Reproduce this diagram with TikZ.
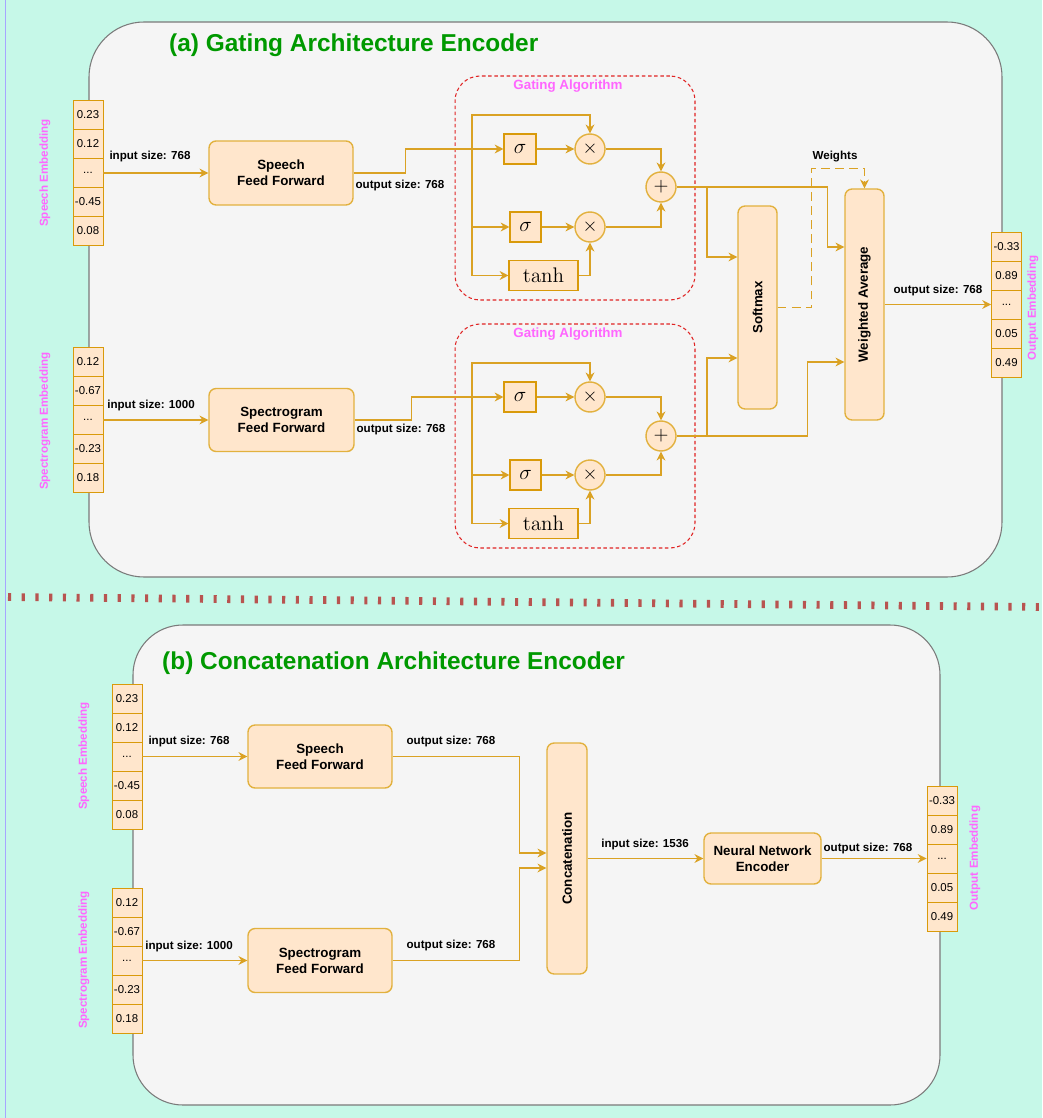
\documentclass[tikz,border=0pt]{standalone}
\usepackage[no-math]{fontspec}
\setmainfont{Liberation Sans}
\usetikzlibrary{arrows.meta,calc}
\definecolor{mint}{HTML}{C6F8E8}
\definecolor{panelf}{HTML}{F5F5F5}
\definecolor{paneld}{HTML}{7A7A7A}
\definecolor{orangef}{HTML}{FFE6CC}
\definecolor{cellc}{HTML}{D99A0A}
\definecolor{boxc}{HTML}{E2B13E}
\definecolor{linec}{HTML}{DAA224}
\definecolor{embc}{HTML}{FF66FF}
\definecolor{titlec}{HTML}{009900}
\definecolor{gatec}{HTML}{E02424}
\definecolor{sepc}{HTML}{B85450}
\begin{document}
\begin{tikzpicture}[x=0.02cm, y=-0.02cm,
    cell/.style={draw=cellc, fill=orangef, line width=0.55pt, minimum width=0.6cm, minimum height=0.58cm, inner sep=0pt, font=\fontsize{6.5}{7}\selectfont},
    blk/.style={draw=boxc, fill=orangef, line width=0.8pt, rounded corners=4pt, inner sep=0pt, align=center, font=\fontsize{7.6}{9}\selectfont\bfseries},
    vtext/.style={rotate=90, font=\fontsize{7.6}{9}\selectfont\bfseries},
    op/.style={circle, draw=boxc, fill=orangef, line width=0.8pt, minimum size=0.6cm, inner sep=0pt, font=\fontsize{11}{12}\selectfont},
    fn/.style={draw=cellc, fill=orangef, line width=0.6pt, minimum height=0.6cm, inner sep=0pt, font=\fontsize{11.5}{12}\selectfont},
    lbl/.style={font=\fontsize{6.6}{8}\selectfont\bfseries, inner sep=1pt},
    emb/.style={rotate=90, text=embc, font=\fontsize{6.6}{8}\selectfont\bfseries},
    gtitle/.style={text=embc, font=\fontsize{7.6}{9}\selectfont\bfseries},
    title/.style={anchor=west, text=titlec, font=\fontsize{13.9}{16}\selectfont\bfseries},
    gate/.style={draw=gatec, dash pattern=on 2pt off 1.5pt, line width=0.6pt, rounded corners=0.5cm, minimum width=4.8cm, minimum height=4.48cm},
    panel/.style={draw=paneld, fill=panelf, line width=0.6pt},
    arr/.style={draw=linec, line width=0.8pt, -{Stealth[length=5pt, width=5pt]}},
    ]
    % Background and the two panels
    \useasboundingbox (0,0) rectangle (1042,1118);
    \fill[mint] (0,0) rectangle (1042,1118);
    \draw[blue!35, line width=0.5pt] (5,0) -- (5,1118);
    \draw[panel, rounded corners=1.1cm] (89,22) rectangle (1002,577);
    \draw[panel, rounded corners=1cm] (133,625) rectangle (940,1105);
    \draw[sepc, line width=4.4pt, dash pattern=on 1.8pt off 6pt] (8,597) -- (1042,607);
    \node[title] (ta) at (163,45) {(a) Gating Architecture Encoder};
    \node[title] (tb) at (156,663) {(b) Concatenation Architecture Encoder};

    % (a) input vectors
    \node[cell] (se1) at (88,115) {0.23};
    \node[cell] (se2) at (88,144) {0.12};
    \node[cell] (se3) at (88,173) {...};
    \node[cell] (se4) at (88,202) {-0.45};
    \node[cell] (se5) at (88,231) {0.08};
    \node[emb] (sel) at (45,173) {Speech Embedding};
    \node[cell] (pe1) at (88,362) {0.12};
    \node[cell] (pe2) at (88,391) {-0.67};
    \node[cell] (pe3) at (88,420) {...};
    \node[cell] (pe4) at (88,449) {-0.23};
    \node[cell] (pe5) at (88,478) {0.18};
    \node[emb] (pel) at (45,421) {Spectrogram Embedding};

    % (a) feed forward blocks
    \node[blk, minimum width=2.88cm, minimum height=1.28cm] (sff) at (281,173) {Speech\\Feed Forward};
    \node[blk, minimum width=2.9cm, minimum height=1.26cm] (pff) at (281.5,420) {Spectrogram\\Feed Forward};
    \draw[arr] (se3.east) -- (sff.west);
    \draw[arr] (pe3.east) -- (pff.west);
    \node[lbl] (li1) at (150,157) {input size: 768};
    \node[lbl] (li2) at (151,406) {input size: 1000};
    \node[lbl] (lo1) at (400,186) {output size: 768};
    \node[lbl] (lo2) at (401,430) {output size: 768};

    % (a) upper gating algorithm
    \node[gate] (ga1) at (575,188) {};
    \node[gtitle] (gt1) at (568,86) {Gating Algorithm};
    \node[fn, minimum width=0.64cm] (sa1) at (520,149) {$\sigma$};
    \node[fn, minimum width=0.62cm] (sb1) at (525.5,227) {$\sigma$};
    \node[fn, minimum width=1.38cm] (th1) at (543.5,275.5) {$\tanh$};
    \node[op] (mx1) at (590,149) {$\times$};
    \node[op] (my1) at (590,227) {$\times$};
    \node[op] (ad1) at (661,187) {$+$};
    \coordinate (ja) at (472,149);
    \draw[arr] (sff.east) -- ++(52,0) |- (sa1.west);
    \draw[arr] (ja) -- ++(0,-34) -| (mx1.north);
    \draw[arr] (ja) |- (sb1.west);
    \draw[arr] (ja) |- (th1.west);
    \draw[arr] (sa1) -- (mx1);
    \draw[arr] (sb1) -- (my1);
    \draw[arr] (th1.east) -| (my1.south);
    \draw[arr] (mx1.east) -| (ad1.north);
    \draw[arr] (my1.east) -| (ad1.south);

    % (a) lower gating algorithm
    \node[gate] (ga2) at (575,436) {};
    \node[gtitle] (gt2) at (568,334) {Gating Algorithm};
    \node[fn, minimum width=0.64cm] (sa2) at (520,397) {$\sigma$};
    \node[fn, minimum width=0.62cm] (sb2) at (525.5,475) {$\sigma$};
    \node[fn, minimum width=1.38cm] (th2) at (543.5,523.5) {$\tanh$};
    \node[op] (mx2) at (590,397) {$\times$};
    \node[op] (my2) at (590,475) {$\times$};
    \node[op] (ad2) at (661,436) {$+$};
    \coordinate (jd) at (472,397);
    \draw[arr] (pff.east) -- ++(57,0) |- (sa2.west);
    \draw[arr] (jd) -- ++(0,-34) -| (mx2.north);
    \draw[arr] (jd) |- (sb2.west);
    \draw[arr] (jd) |- (th2.west);
    \draw[arr] (sa2) -- (mx2);
    \draw[arr] (sb2) -- (my2);
    \draw[arr] (th2.east) -| (my2.south);
    \draw[arr] (mx2.east) -| (ad2.north);
    \draw[arr] (my2.east) -| (ad2.south);

    % (a) softmax and weighted average
    \node[blk, minimum width=0.78cm, minimum height=4.06cm, label={[vtext]center:Softmax}] (sm) at (757.5,307.5) {};
    \node[blk, minimum width=0.78cm, minimum height=4.62cm, label={[vtext]center:Weighted Average}] (wa) at (864.5,304.5) {};
    \coordinate (sin1) at ($(sm.west)+(0,-50.5)$);
    \coordinate (sin2) at ($(sm.west)+(0,50.5)$);
    \coordinate (win1) at ($(wa.west)+(0,-57.5)$);
    \coordinate (win2) at ($(wa.west)+(0,57.5)$);
    \coordinate (wtop) at ($(wa.north)+(0,-20)$);
    \coordinate (jb) at (707,187);
    \coordinate (jc) at (707,436);
    \draw[arr] (ad1.east) -- ++(151,0) |- (win1);
    \draw[arr] (jb) |- (sin1);
    \draw[arr] (ad2.east) -- ++(131,0) |- (win2);
    \draw[arr] (jc) |- (sin2);
    \draw[arr, dash pattern=on 5pt off 3pt] (sm.east) -- ++(34,0) |- (wtop) -- (wa.north);
    \node[lbl] (wl) at (835,157) {Weights};

    % (a) output vector
    \node[cell] (oe1) at (1006.5,246.5) {-0.33};
    \node[cell] (oe2) at (1006.5,275.5) {0.89};
    \node[cell] (oe3) at (1006.5,304.5) {...};
    \node[cell] (oe4) at (1006.5,333.5) {0.05};
    \node[cell] (oe5) at (1006.5,362.5) {0.49};
    \node[emb] (oel) at (1033,308) {Output Embedding};
    \draw[arr] (wa.east) -- (oe3.west);
    \node[lbl] (lo3) at (938,291) {output size: 768};

    % (b) input vectors
    \node[cell] (bse1) at (127,698.5) {0.23};
    \node[cell] (bse2) at (127,727.5) {0.12};
    \node[cell] (bse3) at (127,756.5) {...};
    \node[cell] (bse4) at (127,785.5) {-0.45};
    \node[cell] (bse5) at (127,814.5) {0.08};
    \node[emb] (bsel) at (84,756) {Speech Embedding};
    \node[cell] (bpe1) at (127,902.5) {0.12};
    \node[cell] (bpe2) at (127,931.5) {-0.67};
    \node[cell] (bpe3) at (127,960.5) {...};
    \node[cell] (bpe4) at (127,989.5) {-0.23};
    \node[cell] (bpe5) at (127,1018.5) {0.18};
    \node[emb] (bpel) at (84,960) {Spectrogram Embedding};

    % (b) feed forward blocks and concatenation
    \node[blk, minimum width=2.88cm, minimum height=1.26cm] (bsff) at (320,756.5) {Speech\\Feed Forward};
    \node[blk, minimum width=2.88cm, minimum height=1.28cm] (bpff) at (320,960.5) {Spectrogram\\Feed Forward};
    \node[blk, minimum width=0.8cm, minimum height=4.62cm, label={[vtext]center:Concatenation}] (cc) at (567,858.5) {};
    \node[blk, minimum width=2.34cm, minimum height=1.02cm] (nn) at (762.5,858.5) {Neural Network\\Encoder};
    \coordinate (cin1) at ($(cc.west)+(0,-5.5)$);
    \coordinate (cin2) at ($(cc.west)+(0,9.5)$);
    \draw[arr] (bse3.east) -- (bsff.west);
    \draw[arr] (bpe3.east) -- (bpff.west);
    \draw[arr] (bsff.east) -- ++(127,0) |- (cin1);
    \draw[arr] (bpff.east) -- ++(127,0) |- (cin2);
    \draw[arr] (cc.east) -- (nn.west);
    \node[lbl] (bli1) at (189,741) {input size: 768};
    \node[lbl] (bli2) at (189,946) {input size: 1000};
    \node[lbl] (blo1) at (451,741) {output size: 768};
    \node[lbl] (blo2) at (451,945) {output size: 768};
    \node[lbl] (bli3) at (645,844) {input size: 1536};

    % (b) output vector
    \node[cell] (boe1) at (942,800.5) {-0.33};
    \node[cell] (boe2) at (942,829.5) {0.89};
    \node[cell] (boe3) at (942,858.5) {...};
    \node[cell] (boe4) at (942,887.5) {0.05};
    \node[cell] (boe5) at (942,916.5) {0.49};
    \node[emb] (boel) at (975,858) {Output Embedding};
    \draw[arr] (nn.east) -- (boe3.west);
    \node[lbl] (blo3) at (868,848) {output size: 768};
\end{tikzpicture}
\end{document}
